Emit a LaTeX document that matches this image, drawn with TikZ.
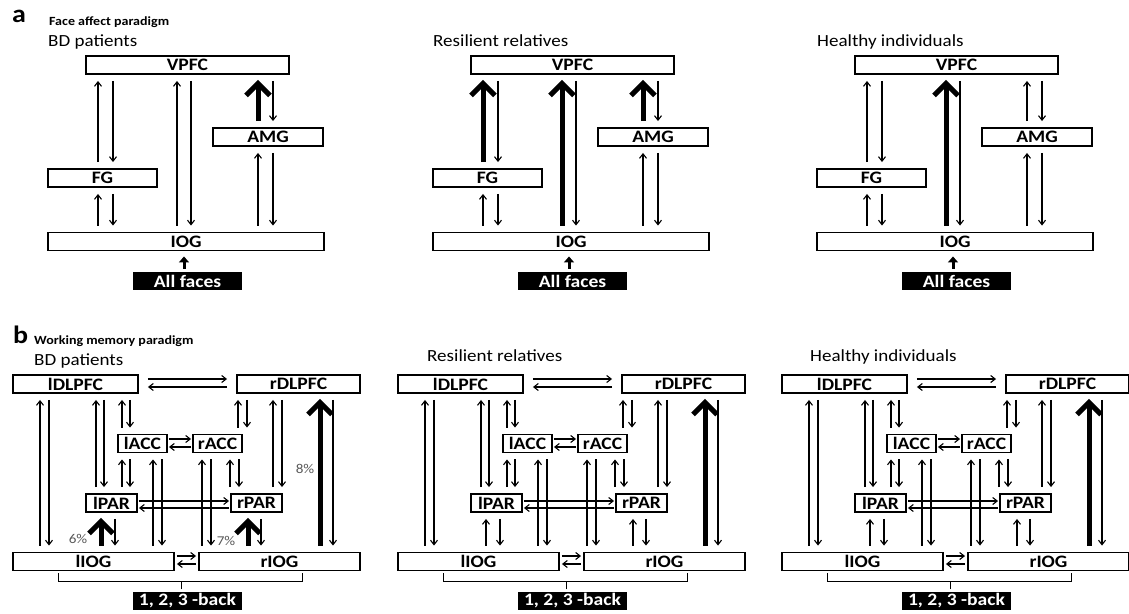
\documentclass[tikz,border=0pt]{standalone}
\usepackage{fontspec}
\setmainfont{Carlito}[FakeStretch=1.12]
\usetikzlibrary{arrows.meta, positioning}

\begin{document}
\begin{tikzpicture}[
    x=1pt, y=-1pt,
    region/.style={draw, line width=1.9pt, minimum height=18pt, inner sep=0pt, font=\fontsize{17.5}{18}\selectfont\bfseries},
    task/.style={fill=black, text=white, minimum width=109pt, minimum height=18pt, inner sep=0pt, font=\fontsize{17.5}{18}\selectfont\bfseries},
    paneltag/.style={anchor=base west, inner sep=0pt, font=\fontsize{25}{26}\selectfont\bfseries},
    paradigm/.style={anchor=base west, inner sep=0pt, font=\fontsize{12.5}{14}\selectfont\bfseries},
    grouptitle/.style={anchor=base west, inner sep=0pt, font=\fontsize{17}{19}\selectfont},
    pct/.style={inner sep=0pt, text=black!65, font=\fontsize{13.5}{15}\selectfont},
    arr/.style={-{Straight Barb[length=4.5pt,width=7pt]}, line width=1.1pt, shorten <=6pt, shorten >=6pt},
    bigarr/.style={-{Straight Barb[length=12pt,width=24pt]}, line width=5pt, shorten <=6pt, shorten >=5pt},
    feed/.style={-{Triangle[length=6pt,width=10pt]}, line width=3pt, shorten <=3pt, shorten >=5pt}
]
\useasboundingbox (0,0) rectangle (1129,613);

% a: face affect
\node[paneltag] (taga) at (12,22) {a};
\node[paradigm] (faceparadigm) at (49,25.5) {Face affect paradigm};

\foreach \dx/\grp/\fgst/\iogst/\amgst [count=\p] in {0/BD patients/arr/arr/bigarr, 385/Resilient relatives/bigarr/bigarr/bigarr, 769/Healthy individuals/arr/bigarr/arr}{
  \begin{scope}[xshift=\dx]
    \node[grouptitle] (grpa\p) at (48,46.5) {\grp};
    \node[region, minimum width=203pt] (vpfc\p) at (187.5,65) {VPFC};
    \node[region, minimum width=110pt] (amg\p) at (268,137) {AMG};
    \node[region, minimum width=109pt] (fg\p) at (102.5,178) {FG};
    \node[region, minimum width=276pt] (iog\p) at (186,241.5) {IOG};
    \node[task] (faces\p) at (187.5,281) {All faces};

    \draw[feed] (faces\p.north -| 184,0) -- (iog\p.south -| 184,0);
    \draw[\fgst] (fg\p.north -| 98,0) -- (vpfc\p.south -| 98,0);
    \draw[arr] (vpfc\p.south -| 113,0) -- (fg\p.north -| 113,0);
    \draw[arr] (iog\p.north -| 98,0) -- (fg\p.south -| 98,0);
    \draw[arr] (fg\p.south -| 113,0) -- (iog\p.north -| 113,0);
    \draw[\iogst] (iog\p.north -| 177,0) -- (vpfc\p.south -| 177,0);
    \draw[arr] (vpfc\p.south -| 191,0) -- (iog\p.north -| 191,0);
    \draw[\amgst] (amg\p.north -| 258,0) -- (vpfc\p.south -| 258,0);
    \draw[arr] (vpfc\p.south -| 273,0) -- (amg\p.north -| 273,0);
    \draw[arr] (iog\p.north -| 258,0) -- (amg\p.south -| 258,0);
    \draw[arr] (amg\p.south -| 273,0) -- (iog\p.north -| 273,0);
  \end{scope}
}

% b: working memory
\node[paneltag] (tagb) at (13,343) {b};
\node[paradigm] (wmparadigm) at (34,344) {Working memory paradigm};

\foreach \dx/\grp/\tx/\ty/\lpst/\rpst [count=\p] in {0/BD patients/34/365/bigarr/bigarr, 385/Resilient relatives/42/361/arr/arr, 769/Healthy individuals/41/361/arr/arr}{
  \begin{scope}[xshift=\dx]
    \node[grouptitle] (grpb\p) at (\tx,\ty) {\grp};
    \node[region, minimum width=125pt] (ldlpfc\p) at (75.5,384) {lDLPFC};
    \node[region, minimum width=123pt] (rdlpfc\p) at (298.5,384) {rDLPFC};
    \node[region, minimum width=49pt] (lacc\p) at (142.5,443.5) {lACC};
    \node[region, minimum width=49pt] (racc\p) at (217.5,443.5) {rACC};
    \node[region, minimum width=51pt] (lpar\p) at (111.5,503) {lPAR};
    \node[region, minimum width=51pt] (rpar\p) at (256.5,503) {rPAR};
    \node[region, minimum width=161pt] (liog\p) at (93.5,561.5) {lIOG};
    \node[region, minimum width=161pt] (riog\p) at (279.5,561.5) {rIOG};
    \node[task] (nback\p) at (187.5,600.5) {1, 2, 3 -back};

    % up/down pairs
    \foreach \lo/\hi/\xu/\xd in {liog/ldlpfc/40/49, lpar/ldlpfc/96/104, lacc/ldlpfc/122/130, lpar/lacc/122/130, liog/lacc/153/162, racc/rdlpfc/238/247, rpar/rdlpfc/273/282, rpar/racc/230/239, riog/racc/202/211}{
      \draw[arr] (\lo\p.north -| \xu,0) -- (\hi\p.south -| \xu,0);
      \draw[arr] (\hi\p.south -| \xd,0) -- (\lo\p.north -| \xd,0);
    }
    \draw[\lpst] (liog\p.north -| 101,0) -- (lpar\p.south -| 101,0);
    \draw[arr] (lpar\p.south -| 115,0) -- (liog\p.north -| 115,0);
    \draw[\rpst] (riog\p.north -| 248,0) -- (rpar\p.south -| 248,0);
    \draw[arr] (rpar\p.south -| 261,0) -- (riog\p.north -| 261,0);
    \draw[bigarr] (riog\p.north -| 320,0) -- (rdlpfc\p.south -| 320,0);
    \draw[arr] (rdlpfc\p.south -| 333,0) -- (riog\p.north -| 333,0);

    % left/right pairs
    \draw[arr, shorten <=9pt, shorten >=9pt] (ldlpfc\p.east |- 0,379) -- (rdlpfc\p.west |- 0,379);
    \draw[arr, shorten <=9pt, shorten >=9pt] (rdlpfc\p.west |- 0,387) -- (ldlpfc\p.east |- 0,387);
    \draw[arr, shorten <=1pt, shorten >=1pt] (lacc\p.east |- 0,439) -- (racc\p.west |- 0,439);
    \draw[arr, shorten <=1pt, shorten >=1pt] (racc\p.west |- 0,447) -- (lacc\p.east |- 0,447);
    \draw[arr, shorten <=1pt, shorten >=1pt] (lpar\p.east |- 0,501) -- (rpar\p.west |- 0,501);
    \draw[arr, shorten <=1pt, shorten >=1pt] (rpar\p.west |- 0,508) -- (lpar\p.east |- 0,508);
    \draw[arr, shorten <=2pt, shorten >=2pt] (liog\p.east |- 0,556) -- (riog\p.west |- 0,556);
    \draw[arr, shorten <=2pt, shorten >=2pt] (riog\p.west |- 0,564) -- (liog\p.east |- 0,564);

    % bracket to the task
    \draw[line width=1pt] ([xshift=-35.5pt, yshift=-2pt]liog\p.south) -- ++(0,8) coordinate (brk\p) -| ([xshift=22.5pt, yshift=-2pt]riog\p.south);
    \draw[line width=1pt, shorten <=2pt] ([xshift=-6pt]nback\p.north) -- ([xshift=-6pt]nback\p.north |- brk\p);
  \end{scope}
}

\node[pct] (pct6) at (78,539) {6\%};
\node[pct] (pct7) at (226,541) {7\%};
\node[pct] (pct8) at (305,469) {8\%};

\end{tikzpicture}
\end{document}
